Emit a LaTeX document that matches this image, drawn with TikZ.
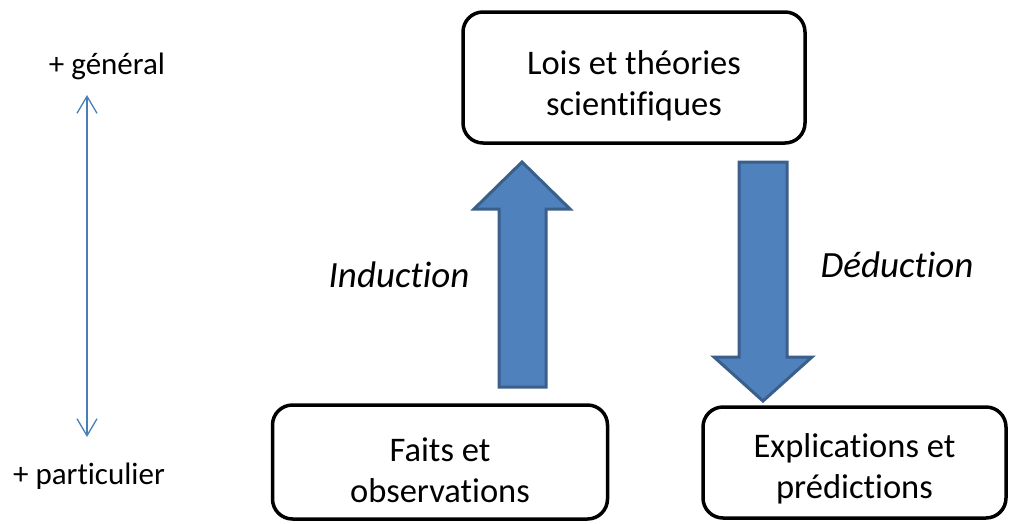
\documentclass[tikz,border=0pt]{standalone}
\usepackage{fontspec}
\setmainfont{Carlito}[Ligatures=NoCommon]
\usetikzlibrary{arrows.meta}
\definecolor{arrowfill}{HTML}{4F81BD}
\definecolor{arrowedge}{HTML}{3A5F8B}
\definecolor{scaleblue}{HTML}{4A7EBB}
\newcommand{\boxstrut}{\rule{0pt}{40pt}}
\tikzset{
    box/.style={draw, line width=3.5pt, rounded corners=20pt, align=center, font=\fontsize{34.5}{41}\selectfont},
    bigarrow/.style={fill=arrowfill, draw=arrowedge, line width=3pt, line join=miter},
    side/.style={font=\fontsize{31}{37}\selectfont},
    method/.style={font=\fontsize{37}{44}\selectfont\itshape},
}
\begin{document}
\begin{tikzpicture}[x=1pt, y=-1pt]
    \useasboundingbox (0,0) rectangle (1010,523);
    \node[box, minimum width=342pt, minimum height=131pt] (lois) at (634,77.5) {\boxstrut Lois et théories\\scientifiques};
    \node[box, minimum width=335pt, minimum height=114pt] (faits) at (440,462) {\boxstrut Faits et\\observations};
    \node[box, minimum width=303pt, minimum height=111pt] (expl) at (854.5,462.5) {\rule{0pt}{36pt}Explications et\\prédictions};
    \draw[bigarrow] (499,387)--(546,387)--(546,209)--(570,209)--(522,162)--(474,209)--(499,209)--cycle;
    \draw[bigarrow] (739,162)--(787,162)--(787,357)--(812,357)--(763,401)--(714,357)--(739,357)--cycle;
    \node[method] (ind) at (399,275) {Induction};
    \node[method] (ded) at (897,265) {Déduction};
    \node[side] (gen) at (107,66) {+ général};
    \node[side] (part) at (89,476) {+ particulier};
    \coordinate (haut) at (87,95);
    \coordinate (bas) at (87,437);
    \draw[scaleblue, line width=1.3pt, {Straight Barb[length=17pt,width=20pt]}-{Straight Barb[length=17pt,width=20pt]}] (haut)--(bas);
\end{tikzpicture}
\end{document}
